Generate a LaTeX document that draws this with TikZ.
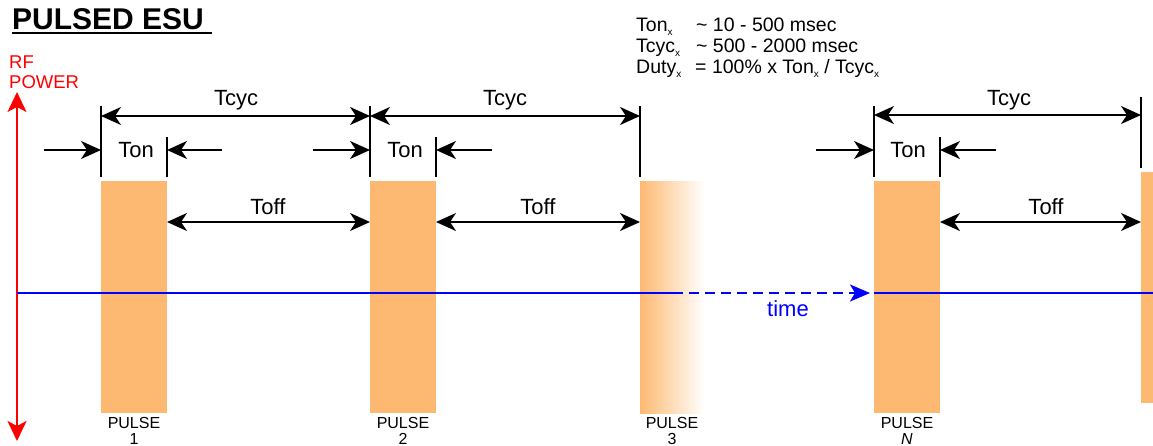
\documentclass[tikz,border=0pt]{standalone}
\usepackage{fontspec}
\setmainfont{Liberation Sans}
\usetikzlibrary{arrows.meta}
\definecolor{pulseorange}{RGB}{253,185,113}
\newcommand{\subx}{\raisebox{-0.35ex}{\fontsize{10}{10}\selectfont x}}
\begin{document}
\begin{tikzpicture}[x=1pt,y=-1pt,
  dimline/.style={line width=2pt,black},
  both/.style={dimline,{Stealth[length=20pt,width=18pt,inset=6pt]}-{Stealth[length=20pt,width=18pt,inset=6pt]}},
  single/.style={dimline,-{Stealth[length=20pt,width=18pt,inset=6pt]}},
  tick/.style={line width=2pt,black},
  pulsebox/.style={fill=pulseorange,draw=none,inner sep=0pt,outer sep=0pt,anchor=north west},
  lbl/.style={font=\fontsize{22}{26}\selectfont,inner sep=0pt},
  plbl/.style={font=\fontsize{16}{16}\selectfont,inner sep=0pt,align=center},
  info/.style={font=\fontsize{19.5}{21}\selectfont,inner sep=0pt,anchor=base west},
  timeaxis/.style={line width=2pt,blue}
]
\useasboundingbox (0,0) rectangle (1153,445);

% title
\node[anchor=base west,inner sep=0pt,font=\bfseries\fontsize{30}{32}\selectfont] (title) at (12,29) {PULSED ESU};
\draw[line width=1.5pt] (title.south west |- 0,33) coordinate (ul1) -- (212,33) coordinate (ul2);

% info text
\node[info] (i1) at (636,31.7) {Ton\subx};
\node[info] (i2) at (636,52.7) {Tcyc\subx};
\node[info] (i3) at (636,73.5) {Duty\subx};
\node[info] (v1) at (696,31.7) {\textasciitilde\ 10 - 500 msec};
\node[info] (v2) at (696,52.7) {\textasciitilde\ 500 - 2000 msec};
\node[info] (v3) at (695,73.5) {= 100\% x Ton\subx\ / Tcyc\subx};

% RF power axis
\node[anchor=west,inner sep=0pt,text=red,font=\fontsize{18.5}{20}\selectfont,align=left] (rf) at (9,72) {RF\\POWER};
\coordinate (axtop) at (17,92);
\coordinate (axbot) at (17,441);
\draw[line width=2pt,red,{Stealth[length=20pt,width=19pt,inset=5pt]}-{Stealth[length=20pt,width=19pt,inset=5pt]}] (axtop) -- (axbot);

% pulses
\node[pulsebox,minimum width=66pt,minimum height=232pt] (p1) at (101,181) {};
\node[pulsebox,minimum width=66pt,minimum height=232pt] (p2) at (370,181) {};
\shade[left color=pulseorange,right color=white,shading angle=90] (640,181) rectangle (704,413);
\node[inner sep=0pt,minimum width=64pt,minimum height=232pt,anchor=north west] (p3) at (640,181) {};
\node[pulsebox,minimum width=66pt,minimum height=232pt] (pN) at (874,181) {};
\node[pulsebox,minimum width=12pt,minimum height=231pt] (p5) at (1141,172) {};

% pulse labels
\node[plbl] (l1) at (134,431) {PULSE\\1};
\node[plbl] (l2) at (403,431) {PULSE\\2};
\node[plbl] (l3) at (672,431) {PULSE\\3};
\node[plbl] (lN) at (907,431) {PULSE\\\textit{N}};

% ticks
\draw[tick] (p1.north west) ++(0,-4) -- (101,106);
\draw[tick] (p1.north east) ++(0,-4) -- (167,137);
\draw[tick] (p2.north west) ++(0,-4) -- (370,106);
\draw[tick] (p2.north east) ++(0,-4) -- (436,137);
\draw[tick] (p3.north west) ++(0,-4) -- (640,106);
\draw[tick] (pN.north west) ++(0,-4) -- (874,106);
\draw[tick] (pN.north east) ++(0,-4) -- (940,137);
\draw[tick] (p5.north west) ++(0,-4) -- (1141,97);

% Tcyc
\coordinate (c1) at (101,116); \coordinate (c2) at (370,116);
\coordinate (c3) at (640,116); \coordinate (c4) at (874,115); \coordinate (c5) at (1141,115);
\draw[both] (c1) -- (c2);
\draw[both] (c2) -- (c3);
\draw[both] (c4) -- (c5);
\node[lbl] (tc1) at (236,100) {Tcyc};
\node[lbl] (tc2) at (505,100) {Tcyc};
\node[lbl] (tc3) at (1009,100) {Tcyc};

% Ton
\coordinate (a1) at (44,150); \coordinate (b1) at (101,150);
\coordinate (a2) at (222,150); \coordinate (b2) at (167,150);
\coordinate (a3) at (313,150); \coordinate (b3) at (370,150);
\coordinate (a4) at (492,150); \coordinate (b4) at (436,150);
\coordinate (a5) at (816,150); \coordinate (b5) at (874,150);
\coordinate (a6) at (996,150); \coordinate (b6) at (940,150);
\draw[single] (a1) -- (b1);
\draw[single] (a2) -- (b2);
\draw[single] (a3) -- (b3);
\draw[single] (a4) -- (b4);
\draw[single] (a5) -- (b5);
\draw[single] (a6) -- (b6);
\node[lbl] (ton1) at (136,150) {Ton};
\node[lbl] (ton2) at (405,150) {Ton};
\node[lbl] (ton3) at (908,150) {Ton};

% Toff
\draw[both] (p1.east |- 0,222) -- (p2.west |- 0,222);
\draw[both] (p2.east |- 0,222) -- (p3.west |- 0,222);
\draw[both] (pN.east |- 0,222) -- (p5.west |- 0,222);
\node[lbl] (toff1) at (268,207) {Toff};
\node[lbl] (toff2) at (538,207) {Toff};
\node[lbl] (toff3) at (1046,207) {Toff};

% time axis
\coordinate (ts) at (17,293);
\coordinate (td) at (673,293);
\coordinate (tn) at (pN.west |- 0,293);
\coordinate (te) at (1153,293);
\draw[timeaxis] (ts) -- (td);
\draw[timeaxis,dash pattern=on 10pt off 6pt,-{Stealth[length=20pt,width=17pt,inset=5pt]}] (td) -- ([xshift=-4pt]tn);
\draw[timeaxis] (tn) -- (te);
\node[lbl,text=blue] (time) at (788,309) {time};
\end{tikzpicture}
\end{document}
